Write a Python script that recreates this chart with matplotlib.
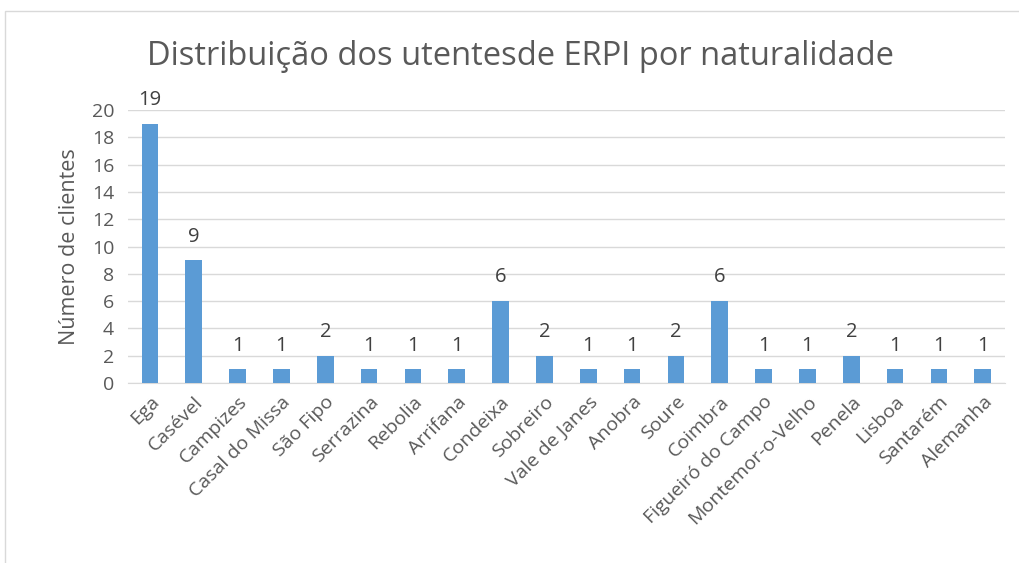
#! /usr/bin/env python

import matplotlib
matplotlib.use("Agg")
import matplotlib.pyplot as plt
from matplotlib.patches import Rectangle

# data
places = ['Ega', 'Casével', 'Campizes', 'Casal do Missa', 'São Fipo', 'Serrazina',
          'Rebolia', 'Arrifana', 'Condeixa', 'Sobreiro', 'Vale de Janes', 'Anobra',
          'Soure', 'Coimbra', 'Figueiró do Campo', 'Montemor-o-Velho', 'Penela',
          'Lisboa', 'Santarém', 'Alemanha']
counts = [19, 9, 1, 1, 2, 1, 1, 1, 6, 2, 1, 1, 2, 6, 1, 1, 2, 1, 1, 1]
yticks = [0, 2, 4, 6, 8, 10, 12, 14, 16, 18, 20]

grey = '#595959'
plt.rcParams['font.family'] = ['Open Sans', 'DejaVu Sans']

fig = plt.figure(figsize=(10.19, 5.63), dpi=100)
ax = fig.add_axes([0.1256, 0.3197, 0.8604, 0.4849])

x = range(len(places))
ax.bar(x, counts, width=0.38, color='#5b9bd5', zorder=3)
for i, v in zip(x, counts):
    ax.text(i, v + 1.0, str(v), ha='center', va='bottom', fontsize=14.5, color='#404040')

ax.set_xlim(-0.5, len(places) - 0.5)
ax.set_ylim(0, 20)
ax.set_yticks(yticks)
ax.grid(axis='y', color='#d9d9d9', linewidth=1, zorder=0)
ax.set_xticks(list(x))
ax.set_xticklabels(places, rotation=45, ha='right', rotation_mode='anchor',
                   fontsize=14, color=grey)
ax.tick_params(axis='y', labelsize=14, colors=grey, length=0, pad=10)
ax.tick_params(axis='x', length=0, pad=7)
for s in ['top', 'right', 'left']:
    ax.spines[s].set_visible(False)
ax.spines['bottom'].set_color('#d9d9d9')
ax.set_ylabel('Número de clientes', fontsize=15.5, color=grey, labelpad=8)

fig.text(0.511, 0.9, 'Distribuição dos utentesde ERPI por naturalidade',
         ha='center', va='center', fontsize=23.5, color=grey)

# outer chart frame
fig.patches.append(Rectangle((0.005, -0.1), 1.1, 1.08, transform=fig.transFigure,
                             fill=False, edgecolor='#d9d9d9', linewidth=1))

fig.savefig('out.png', dpi=100)
